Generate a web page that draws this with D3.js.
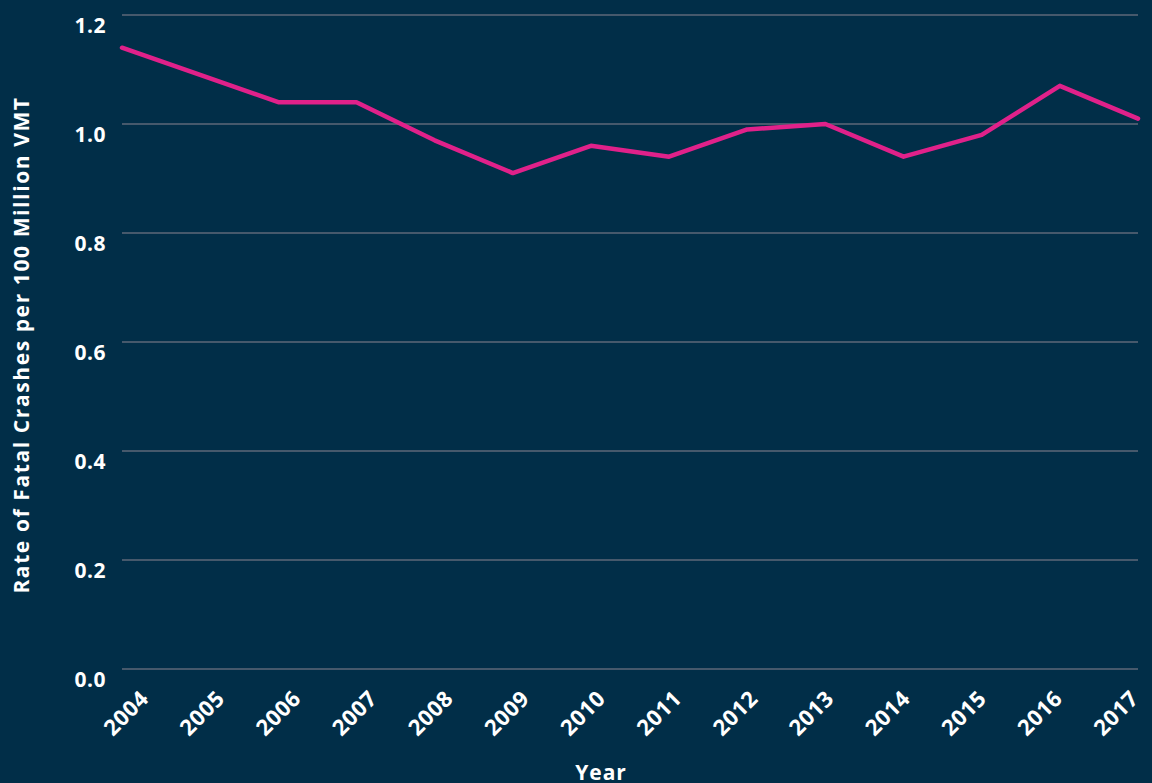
<!DOCTYPE html>
<html>
<head>
<meta charset="utf-8">
<script src="https://cdn.jsdelivr.net/npm/d3@7"></script>
<style>
    body { margin: 0; background: #012e48; }
    text { font-family: "Open Sans", Lato, sans-serif; font-weight: 700; fill: #ffffff; }
</style>
</head>
<body>
<div id="chart"></div>
<script>
const years = ["2004", "2005", "2006", "2007", "2008", "2009", "2010", "2011", "2012", "2013", "2014", "2015", "2016", "2017"];
const rates = [1.14, 1.09, 1.04, 1.04, 0.97, 0.91, 0.96, 0.94, 0.99, 1.00, 0.94, 0.98, 1.07, 1.01];
const yTicks = [0, 0.2, 0.4, 0.6, 0.8, 1.0, 1.2];

const width = 1152, height = 783;
const margin = {top: 15, right: 14, bottom: 114, left: 122};

const svg = d3.select("#chart").append("svg")
    .attr("width", width)
    .attr("height", height);

svg.append("rect")
    .attr("width", width)
    .attr("height", height)
    .attr("fill", "#012e48");

const x = d3.scalePoint()
    .domain(years)
    .range([margin.left, width - margin.right]);

// the year labels sit on a slightly tighter spacing than the points
const xLabel = d3.scalePoint()
    .domain(years)
    .range([126, 1116]);

const y = d3.scaleLinear()
    .domain([0, 1.2])
    .range([height - margin.bottom, margin.top]);

// gridlines
svg.append("g")
    .selectAll("line")
    .data(yTicks)
    .enter()
    .append("line")
    .attr("x1", margin.left)
    .attr("x2", width - margin.right)
    .attr("y1", d => y(d))
    .attr("y2", d => y(d))
    .attr("stroke", "#46596c")
    .attr("stroke-width", 2);

// y tick labels
svg.append("g")
    .selectAll("text")
    .data(yTicks)
    .enter()
    .append("text")
    .attr("x", 106)
    .attr("y", d => y(d) + 11)
    .attr("dy", "0.35em")
    .attr("text-anchor", "end")
    .style("font-size", "21px")
    .style("letter-spacing", "0.5px")
    .text(d => d.toFixed(1));

// x tick labels
svg.append("g")
    .selectAll("text")
    .data(years)
    .enter()
    .append("text")
    .attr("transform", d => "translate(" + xLabel(d) + "," + 713 + ") rotate(-45)")
    .attr("text-anchor", "middle")
    .attr("dy", "0.35em")
    .style("font-size", "22px")
    .style("letter-spacing", "0.5px")
    .text(d => d);

const line = d3.line()
    .x((d, i) => x(years[i]))
    .y(d => y(d));

svg.append("path")
    .datum(rates)
    .attr("d", line)
    .attr("fill", "none")
    .attr("stroke", "#e0218a")
    .attr("stroke-width", 4.5)
    .attr("stroke-linejoin", "round")
    .attr("stroke-linecap", "round");

svg.append("text")
    .attr("x", 601)
    .attr("y", 773)
    .attr("dy", "0.35em")
    .attr("text-anchor", "middle")
    .style("font-size", "21px")
    .style("letter-spacing", "1px")
    .text("Year");

svg.append("text")
    .attr("transform", "translate(22," + 345 + ") rotate(-90)")
    .attr("dy", "0.35em")
    .attr("text-anchor", "middle")
    .style("font-size", "21px")
    .style("letter-spacing", "1.6px")
    .text("Rate of Fatal Crashes per 100 Million VMT");
</script>
</body>
</html>
